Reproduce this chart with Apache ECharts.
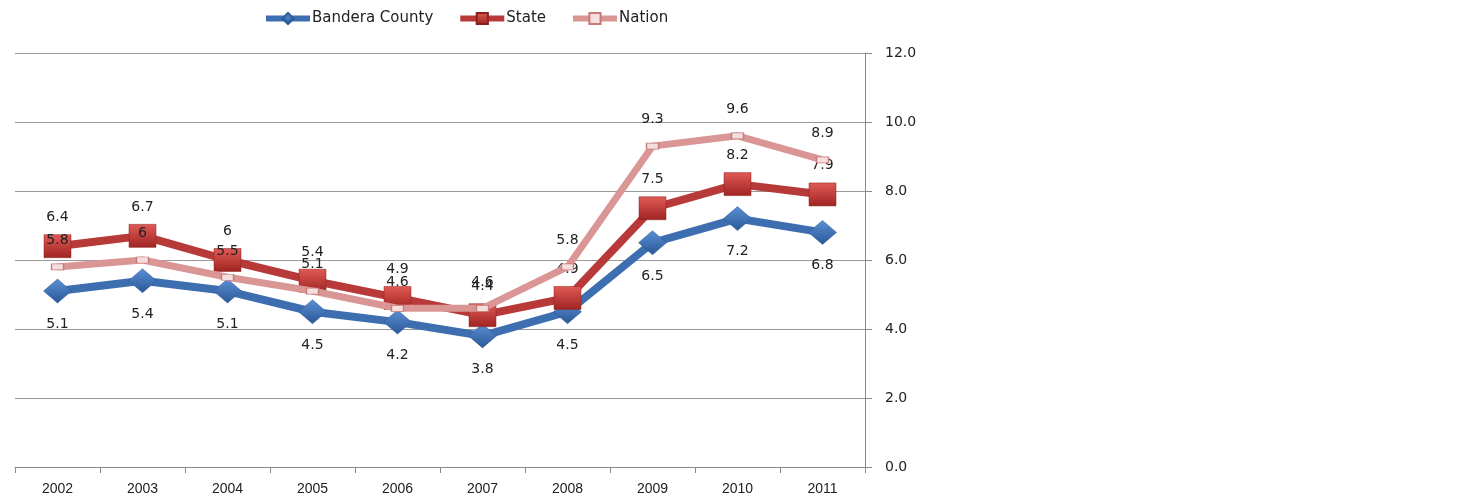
<!DOCTYPE html>
<html>
<head>
<meta charset="utf-8">
<script src="https://cdn.jsdelivr.net/npm/echarts@6/dist/echarts.min.js"></script>
<style>
html,body{margin:0;padding:0;background:#fff;}
#chart{width:1462px;height:500px;}
</style>
</head>
<body>
<div id="chart"></div>
<script>
var categories = ['2002','2003','2004','2005','2006','2007','2008','2009','2010','2011'];
var bandera = [5.1, 5.4, 5.1, 4.5, 4.2, 3.8, 4.5, 6.5, 7.2, 6.8];
var state = [6.4, 6.7, 6, 5.4, 4.9, 4.4, 4.9, 7.5, 8.2, 7.9];
var nation = [5.8, 6, 5.5, 5.1, 4.6, 4.6, 5.8, 9.3, 9.6, 8.9];
var yTicks = [0, 2, 4, 6, 8, 10, 12];

var chart = echarts.init(document.getElementById('chart'));
var font = 'DejaVu Sans';
function grad(c1, c2) {
  return new echarts.graphic.LinearGradient(0, 0, 0, 1, [
    {offset: 0, color: c1}, {offset: 1, color: c2}
  ]);
}
var labelStyle = {show: true, fontFamily: font, fontSize: 14, color: '#222'};
chart.setOption({
  animation: false,
  textStyle: {fontFamily: font},
  legend: {
    top: 6, left: 258,
    itemWidth: 44, itemHeight: 14, itemGap: 24,
    textStyle: {fontFamily: font, fontSize: 15, color: '#222', padding: [0, 0, 0, -3]},
    data: [
      {name: 'Bandera County', lineStyle: {width: 6}},
      {name: 'State', lineStyle: {width: 6}},
      {name: 'Nation', lineStyle: {width: 6}}
    ]
  },
  grid: {left: 15, right: 597, top: 53, bottom: 33, containLabel: false},
  xAxis: {
    type: 'category',
    data: categories,
    boundaryGap: true,
    axisLine: {lineStyle: {color: '#888', width: 1}},
    axisTick: {show: true, length: 6, lineStyle: {color: '#888'}},
    axisLabel: {fontFamily: "'Liberation Sans Narrow', 'Liberation Sans', sans-serif", fontSize: 14, color: '#222', margin: 15}
  },
  yAxis: {
    type: 'value',
    position: 'right',
    min: yTicks[0], max: yTicks[yTicks.length - 1], interval: 2,
    axisLine: {show: true, lineStyle: {color: '#888', width: 1}},
    axisTick: {show: true, length: 7, inside: false, lineStyle: {color: '#888'}},
    splitLine: {show: true, lineStyle: {color: '#999', width: 1}},
    axisLabel: {fontFamily: font, fontSize: 14, color: '#222', margin: 20,
      formatter: function (v) { return v.toFixed(1); }}
  },
  series: [
    {
      name: 'Bandera County', type: 'line', data: bandera,
      symbol: 'diamond', symbolSize: [28, 24],
      lineStyle: {color: '#3d6eb0', width: 8},
      itemStyle: {color: grad('#5b8fd4', '#2a5898'), borderColor: '#2a5898', borderWidth: 0.5},
      label: Object.assign({}, labelStyle, {position: 'bottom', distance: 14}),
      z: 2
    },
    {
      name: 'State', type: 'line', data: state,
      symbol: 'rect', symbolSize: [27, 23],
      lineStyle: {color: '#b83a38', width: 8},
      itemStyle: {color: grad('#e05a55', '#9f2422'), borderColor: '#8c2020', borderWidth: 0.5},
      label: Object.assign({}, labelStyle, {position: 'top', distance: 10}),
      z: 3
    },
    {
      name: 'Nation', type: 'line', data: nation,
      symbol: 'rect', symbolSize: [12, 6],
      lineStyle: {color: '#d99694', width: 7},
      itemStyle: {color: '#f4dede', borderColor: '#c87a78', borderWidth: 1},
      label: Object.assign({}, labelStyle, {position: 'top', distance: 16}),
      z: 4
    }
  ]
});
</script>
</body>
</html>
